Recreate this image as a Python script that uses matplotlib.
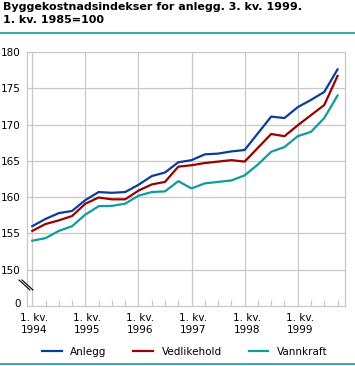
import matplotlib
matplotlib.use('Agg')
import matplotlib.pyplot as plt
from matplotlib.lines import Line2D
import matplotlib.transforms as mtransforms
import numpy as np

plt.rcParams['font.family'] = ['DejaVu Sans']

# kvartaler 1. kv. 1994 - 4. kv. 1999
years = ['1994', '1995', '1996', '1997', '1998', '1999']
anlegg = [156.0, 157.0, 157.8, 158.1, 159.6, 160.7, 160.6, 160.7, 161.7, 162.9, 163.4, 164.8,
          165.1, 165.9, 166.0, 166.3, 166.5, 168.8, 171.1, 170.9, 172.4, 173.4, 174.5, 177.6]
vedlikehold = [155.35, 156.3, 156.8, 157.4, 159.1, 159.95, 159.7, 159.7, 160.9, 161.75, 162.1, 164.2,
               164.4, 164.7, 164.9, 165.1, 164.9, 166.8, 168.7, 168.4, 169.9, 171.3, 172.7, 176.7]
vannkraft = [154.0, 154.35, 155.35, 156.0, 157.6, 158.75, 158.8, 159.1, 160.2, 160.7, 160.8, 162.2,
             161.2, 161.9, 162.1, 162.3, 163.0, 164.5, 166.25, 166.9, 168.4, 169.0, 170.9, 174.0]
y_ticks = [150, 155, 160, 165, 170, 175, 180]
y_labels = ['150', '155', '160', '165', '170', '175', '180']

blue = '#0a3c9c'
red = '#990000'
teal = '#109c9c'
grey = '#c8c8c8'

fig = plt.figure(figsize=(3.55, 3.66), dpi=100)
ax = fig.add_axes([0.0752, 0.1639, 0.8958, 0.694])

x = np.arange(len(anlegg))
ax.plot(x, anlegg, color=blue, lw=1.6, label='Anlegg')
ax.plot(x, vedlikehold, color=red, lw=1.6, label='Vedlikehold')
ax.plot(x, vannkraft, color=teal, lw=1.6, label='Vannkraft')

# brutt akse: 0 vises under 150
ax.set_ylim(145.0, 180)
ax.set_xlim(-0.42, 23.54)
ax.set_yticks([145.4] + y_ticks)
ax.set_yticklabels(['0'] + y_labels)
for t in y_ticks:
    ax.axhline(t, color=grey, lw=0.9, zorder=0)

ax.set_xticks(np.arange(0, 24, 4))
ax.set_xticklabels(['1. kv.\n' + y for y in years], linespacing=1.2)
ax.set_xticks(x, minor=True)
ax.grid(axis='x', which='major', color=grey, lw=0.9, zorder=0)
ax.tick_params(axis='x', which='major', length=0, pad=5, labelsize=7.5)
ax.tick_params(axis='x', which='minor', direction='in', length=4.3, color=grey, width=0.9)
ax.tick_params(axis='y', length=0, pad=4.5, labelsize=7.5)
shift = mtransforms.ScaledTranslation(2 / 100, 0, fig.dpi_scale_trans)
for lab in ax.get_xticklabels():
    lab.set_transform(lab.get_transform() + shift)
for s in ax.spines.values():
    s.set_color(grey)
    s.set_linewidth(0.9)
ax.spines['top'].set_visible(False)

# bruddtegn
for dx in (0, 3):
    fig.add_artist(Line2D([(19 + dx) / 355, (30 + dx) / 355],
                          [1 - 280 / 366, 1 - 290 / 366],
                          color='black', lw=0.8))

fig.text(0.008, 1 - 2 / 366, 'Byggekostnadsindekser for anlegg. 3. kv. 1999.\n1. kv. 1985=100',
         fontsize=8, fontweight='bold', va='top', linespacing=1.38)
fig.add_artist(Line2D([0, 1], [1 - 32.7 / 366, 1 - 32.7 / 366], color=teal, lw=1.2))
fig.add_artist(Line2D([0, 1], [1 - 364 / 366, 1 - 364 / 366], color=teal, lw=1.2))

fig.legend(loc='center', bbox_to_anchor=(0.52, 1 - 352 / 366), ncol=3, frameon=False,
           fontsize=7.5, handlelength=1.9, handletextpad=0.8, columnspacing=2.6)

fig.savefig('out.png', dpi=100)
